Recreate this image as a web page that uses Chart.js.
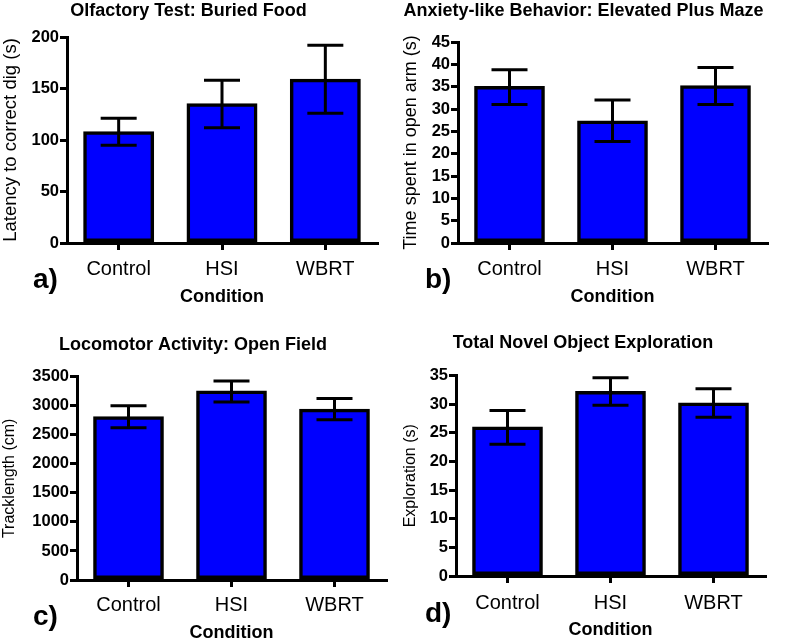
<!DOCTYPE html>
<html>
<head>
<meta charset="utf-8">
<script src="https://cdn.jsdelivr.net/npm/chart.js@4.4.1/dist/chart.umd.min.js"></script>
<style>
  body { margin: 0; background: #fff; }
  #page { position: relative; width: 787px; height: 642px; overflow: hidden; background: #fff; }
  #page canvas { position: absolute; }
</style>
</head>
<body>
<div id="page">
  <canvas id="chartA" width="444" height="320" style="left:0px;top:0px"></canvas>
  <canvas id="chartB" width="405" height="320" style="left:400px;top:0px"></canvas>
  <canvas id="chartC" width="462" height="322" style="left:0px;top:320px"></canvas>
  <canvas id="chartD" width="422" height="322" style="left:400px;top:320px"></canvas>
</div>
<script>
const conditions = ["Control", "HSI", "WBRT"];

// mean and error bar ends
const olfactoryMean = [108, 135, 159];
const olfactoryLow = [95, 112, 126];
const olfactoryHigh = [121, 158, 192];

const mazeMean = [35, 27.3, 35.2];
const mazeLow = [31, 22.7, 31];
const mazeHigh = [38.8, 32, 39.3];

const trackMean = [2810, 3250, 2940];
const trackLow = [2620, 3065, 2760];
const trackHigh = [3000, 3425, 3125];

const exploreMean = [26, 32.2, 30.2];
const exploreLow = [23, 29.8, 27.7];
const exploreHigh = [28.9, 34.6, 32.7];

const FONT = "'Liberation Sans', Arial, sans-serif";
Chart.defaults.font.family = FONT;
Chart.defaults.color = "#000";

const errorBars = {
  id: "errorBars",
  afterDatasetsDraw(chart, args, opts) {
    const meta = chart.getDatasetMeta(0);
    const y = chart.scales.y;
    const ctx = chart.ctx;
    const half = opts.cap / 2;
    ctx.save();
    ctx.strokeStyle = "#000";
    ctx.lineWidth = 3;
    meta.data.forEach((bar, i) => {
      const yl = y.getPixelForValue(opts.low[i]);
      const yh = y.getPixelForValue(opts.high[i]);
      ctx.beginPath();
      ctx.moveTo(bar.x, yl);
      ctx.lineTo(bar.x, yh);
      ctx.moveTo(bar.x - half, yh);
      ctx.lineTo(bar.x + half, yh);
      ctx.moveTo(bar.x - half, yl);
      ctx.lineTo(bar.x + half, yl);
      ctx.stroke();
    });
    ctx.restore();
  },
};

const panelLabel = {
  id: "panelLabel",
  afterDraw(chart, args, opts) {
    const ctx = chart.ctx;
    ctx.save();
    ctx.fillStyle = "#000";
    ctx.font = "bold 28px " + FONT;
    ctx.textAlign = "left";
    ctx.textBaseline = "middle";
    ctx.fillText(opts.text, opts.x, opts.y);
    ctx.restore();
  },
};

function makePanel(id, cfg) {
  const ctx = document.getElementById(id).getContext("2d");
  return new Chart(ctx, {
    type: "bar",
    data: {
      labels: conditions,
      datasets: [{
        data: cfg.mean,
        backgroundColor: "#0000ff",
        borderColor: "#000",
        borderWidth: 3.5,
        inflateAmount: 0.6,
        borderSkipped: false,
        categoryPercentage: 1,
        barPercentage: 0.675,
      }],
    },
    options: {
      responsive: false,
      animation: false,
      events: [],
      layout: { padding: cfg.pad },
      plugins: {
        legend: { display: false },
        tooltip: { enabled: false },
        title: {
          display: true,
          text: cfg.title,
          font: { size: 18, weight: "bold" },
          color: "#000",
          padding: cfg.titlePad,
        },
        errorBars: { low: cfg.low, high: cfg.high, cap: 36 },
        panelLabel: cfg.letter,
      },
      scales: {
        x: {
          offset: true,
          grid: { drawOnChartArea: false, drawTicks: true, tickLength: 7, offset: false, color: "#000", lineWidth: 3 },
          border: { display: true, color: "#000", width: 3 },
          ticks: { font: { size: 20 }, color: "#000", padding: cfg.xTickPad, maxRotation: 0 },
          title: { display: true, text: "Condition", font: { size: 18, weight: "bold", lineHeight: 1 }, color: "#000", padding: 0 },
          afterFit: (s) => { s.height = cfg.xH; },
        },
        y: {
          min: 0,
          max: cfg.max,
          ticks: {
            stepSize: cfg.step,
            autoSkip: false,
            font: { size: 16.5, weight: "bold", lineHeight: 1 },
            color: "#000",
            padding: 1,
            callback: (v) => String(v),
          },
          grid: { drawOnChartArea: false, drawTicks: true, tickLength: 7, color: "#000", lineWidth: 3 },
          border: { display: true, color: "#000", width: 3 },
          title: { display: true, text: cfg.yTitle, font: { size: cfg.yTitleSize }, color: "#000", padding: 0 },
          afterFit: (s) => { s.width = cfg.yW; },
        },
      },
    },
    plugins: [errorBars, panelLabel],
  });
}

makePanel("chartA", {
  title: "Olfactory Test: Buried Food",
  yTitle: "Latency to correct dig (s)",
  yTitleSize: 18.5,
  mean: olfactoryMean, low: olfactoryLow, high: olfactoryHigh,
  max: 200, step: 50,
  pad: { left: 0, right: 67, top: 0, bottom: 14 },
  titlePad: { top: 0, bottom: 15.4 },
  yW: 67, xH: 63, xTickPad: 7.3,
  letter: { text: "a)", x: 33, y: 280 },
});

makePanel("chartB", {
  title: "Anxiety-like Behavior: Elevated Plus Maze",
  yTitle: "Time spent in open arm (s)",
  yTitleSize: 18,
  mean: mazeMean, low: mazeLow, high: mazeHigh,
  max: 45, step: 5,
  pad: { left: 0, right: 38, top: 0, bottom: 14 },
  titlePad: { top: 0, bottom: 20.4 },
  yW: 58, xH: 63, xTickPad: 7.3,
  letter: { text: "b)", x: 25, y: 280 },
});

makePanel("chartC", {
  title: "Locomotor Activity: Open Field",
  yTitle: "Tracklength (cm)",
  yTitleSize: 16,
  mean: trackMean, low: trackLow, high: trackHigh,
  max: 3500, step: 500,
  pad: { left: 0, right: 76, top: 0, bottom: 0 },
  titlePad: { top: 14.2, bottom: 20.9 },
  yW: 77, xH: 62, xTickPad: 6.3,
  letter: { text: "c)", x: 33, y: 297 },
});

makePanel("chartD", {
  title: "Total Novel Object Exploration",
  yTitle: "Exploration (s)",
  yTitleSize: 16,
  mean: exploreMean, low: exploreLow, high: exploreHigh,
  max: 35, step: 5,
  pad: { left: 1, right: 57, top: 0, bottom: 3 },
  titlePad: { top: 12.7, bottom: 21.2 },
  yW: 55, xH: 63, xTickPad: 8.3,
  letter: { text: "d)", x: 25, y: 294 },
});
</script>
</body>
</html>
